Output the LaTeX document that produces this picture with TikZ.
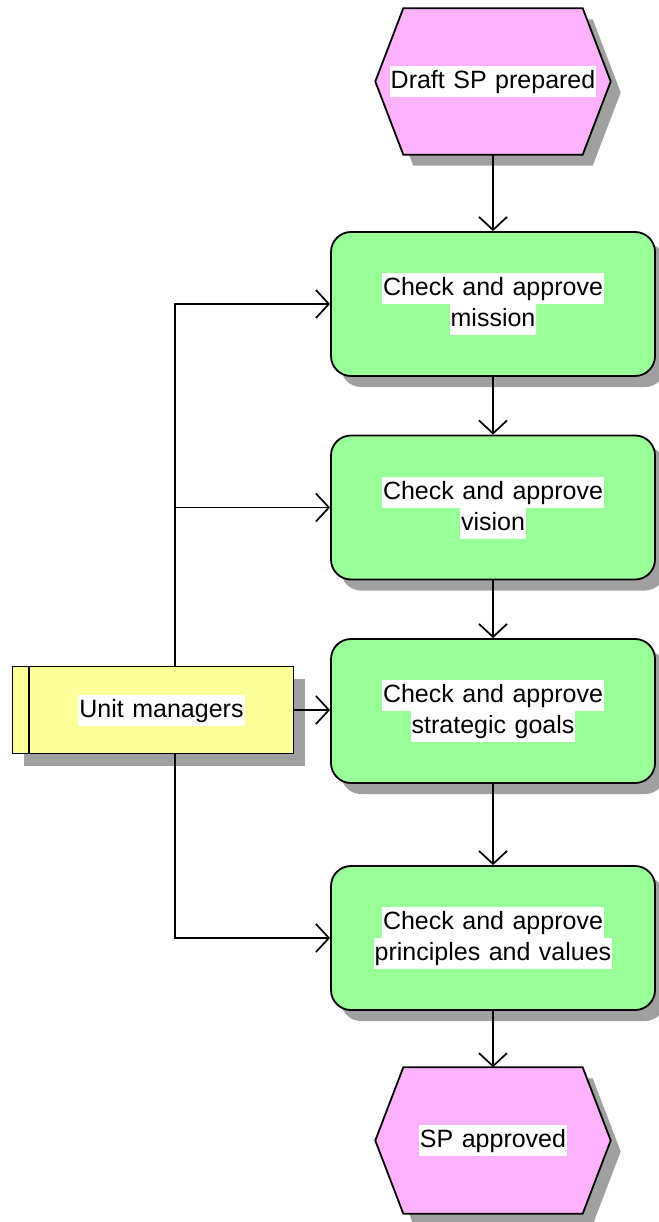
\documentclass[tikz,border=0pt]{standalone}
\usepackage{fontspec}
\setmainfont{Liberation Sans}
\usetikzlibrary{arrows.meta,shadows,backgrounds,calc}
\definecolor{hexpink}{HTML}{FFB3FF}
\definecolor{funcgreen}{HTML}{99FF99}
\definecolor{orgyellow}{HTML}{FFFF99}
\definecolor{shadowgray}{HTML}{A0A0A0}
\newcommand{\wl}[1]{{\setlength{\fboxsep}{1pt}\colorbox{white}{\vrule height 21.5pt depth 7.5pt width 0pt #1}}}
\newcommand{\txtfont}{\fontsize{25}{31}\selectfont\spaceskip=8.5pt plus 1pt minus 1pt\lineskip=0pt\lineskiplimit=0pt}
\begin{document}
\begin{tikzpicture}[x=1pt,y=-1pt,
  conn/.style={line width=1.7pt, line join=miter, -{Straight Barb[length=13pt,width=28pt]}},
  myshadow/.style={drop shadow={shadow xshift=10pt,shadow yshift=-11pt,fill=shadowgray,opacity=1}},
  func/.style={rectangle, rounded corners=20pt, draw, line width=1.8pt, fill=funcgreen,
    minimum width=324pt, minimum height=144pt, inner sep=0pt, align=center, font=\txtfont, myshadow},
  hexbox/.style={rectangle, minimum width=235pt, minimum height=146pt, inner sep=0pt, align=center, font=\txtfont},
  hexshape/.style={draw, line width=1.8pt, fill=hexpink, line join=miter, myshadow},
  orgbox/.style={rectangle, draw, line width=1.8pt, fill=orgyellow, minimum width=281pt, minimum height=87pt,
    inner sep=0pt, align=center, font=\txtfont, drop shadow={shadow xshift=11pt,shadow yshift=-12pt,fill=shadowgray,opacity=1}}
  ]
\useasboundingbox (0,0) rectangle (658,1222);

% events (hexagons)
\node[hexbox] (draft) at (493,81.5) {\wl{Draft SP prepared}};
\node[hexbox] (done) at (493,1140.5) {\wl{SP approved}};
\begin{pgfonlayer}{background}
\path[hexshape] (draft.west) -- ([xshift=28pt]draft.north west) -- ([xshift=-28pt]draft.north east)
  -- (draft.east) -- ([xshift=-28pt]draft.south east) -- ([xshift=28pt]draft.south west) -- cycle;
\path[hexshape] (done.west) -- ([xshift=28pt]done.north west) -- ([xshift=-28pt]done.north east)
  -- (done.east) -- ([xshift=-28pt]done.south east) -- ([xshift=28pt]done.south west) -- cycle;
\end{pgfonlayer}

% functions
\node[func] (m1) at (493,304) {\wl{Check and approve}\\\wl{mission}};
\node[func] (m2) at (493,507.5) {\wl{Check and approve}\\\wl{vision}};
\node[func] (m3) at (493,711) {\wl{Check and approve}\\\wl{strategic goals}};
\node[func] (m4) at (493,938) {\wl{Check and approve}\\\wl{principles and values}};

% organisational unit
\node[orgbox] (um) at (153,710) {\hspace*{17pt}\wl{Unit managers}};
\draw[line width=1.8pt] ([xshift=17pt]um.north west) -- ([xshift=17pt]um.south west);

% main flow
\draw[conn] (draft) -- (m1);
\draw[conn] (m1) -- (m2);
\draw[conn] (m2) -- (m3);
\draw[conn] (m3) -- (m4);
\draw[conn] (m4) -- (done);

% unit managers connections
\coordinate (umtop) at ([xshift=22pt]um.north);
\coordinate (umbot) at ([xshift=22pt]um.south);
\coordinate (br2) at (umtop |- m2.west);
\draw[conn] (umtop) |- (m1.west);
\draw[conn] (br2) -- (m2.west);
\draw[conn] (um.east) -- (um.east -| m3.west);
\draw[conn] (umbot) |- (m4.west);
\end{tikzpicture}
\end{document}
